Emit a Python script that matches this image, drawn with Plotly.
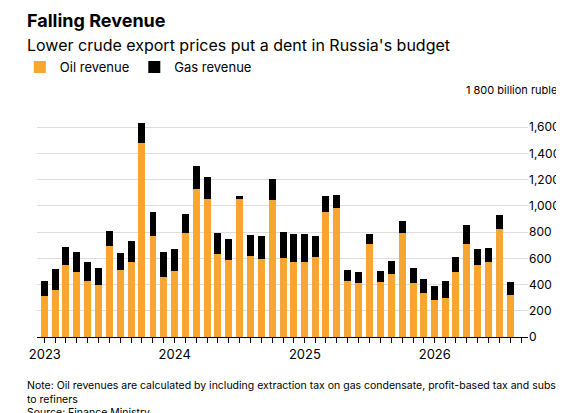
import plotly.graph_objects as go

months = [f"{y}-{m:02d}-01" for y in range(2023, 2027) for m in range(1, 13)][:44]

# billion rubles
oil = [309, 359, 549, 496, 425, 400, 691, 509, 574, 1480, 767, 460,
       501, 792, 1126, 1050, 632, 589, 1052, 615, 595, 1045, 602, 569,
       572, 607, 954, 982, 428, 415, 708, 417, 483, 792, 412, 334,
       281, 296, 496, 706, 549, 574, 825, 324]
total = [425, 521, 686, 645, 569, 526, 810, 640, 736, 1629, 956, 648,
         673, 941, 1303, 1224, 792, 744, 1075, 777, 769, 1207, 799, 787,
         784, 769, 1075, 1080, 509, 493, 784, 501, 577, 886, 529, 445,
         392, 430, 612, 853, 675, 681, 931, 422]
gas = [t - o for t, o in zip(total, oil)]

y_ticks = [0, 200, 400, 600, 800, 1000, 1200, 1400, 1600, 1800]
y_labels = ["0", "200", "400", "600", "800", "1,000", "1,200", "1,400", "1,600", ""]

ORANGE = "#f8a532"
FONT = "Inter, Roboto, sans-serif"

fig = go.Figure()
fig.add_trace(go.Bar(x=months, y=oil, name="Oil revenue", marker_color=ORANGE, marker_line_width=0))
fig.add_trace(go.Bar(x=months, y=gas, name="Gas revenue", marker_color="#000000", marker_line_width=0))

fig.update_layout(
    barmode="stack",
    bargap=0.3,
    width=564, height=413,
    margin=dict(l=14, r=44, t=93, b=84),
    paper_bgcolor="white", plot_bgcolor="white",
    font=dict(family=FONT, size=12, color="#000"),
    showlegend=True,
    legend=dict(orientation="h", x=-0.035, y=1.144, xanchor="left", yanchor="middle",
                font=dict(size=13), traceorder="normal"),
    xaxis=dict(
        type="date",
        tickvals=months + ["2026-09-01"],
        ticktext=[m[:4] if m.endswith("-01-01") else "" for m in months] + [""],
        ticks="outside", ticklen=5, tickcolor="#000",
        showline=True, linecolor="#000", linewidth=1,
        showgrid=False, range=["2022-12-10", "2026-09-20"],
        tickfont=dict(size=13),
    ),
    yaxis=dict(
        side="right", range=[0, 1800], tickvals=y_ticks, ticktext=y_labels,
        gridcolor="#dddddd", zeroline=False, tickfont=dict(size=12),
    ),
)

fig.add_annotation(text="<b>Falling Revenue</b>", xref="paper", yref="paper", x=0, y=1.339,
                   xanchor="left", yanchor="middle", xshift=-12, showarrow=False, font=dict(size=18))
fig.add_annotation(text="Lower crude export prices put a dent in Russia's budget", xref="paper", yref="paper",
                   x=0, y=1.237, xanchor="left", yanchor="middle", xshift=-12, showarrow=False, font=dict(size=16))
fig.add_annotation(text="1 800 billion rubles", xref="paper", yref="paper", x=1.075, y=1.047,
                   xanchor="right", yanchor="middle", showarrow=False, font=dict(size=11))
fig.add_annotation(text="Note: Oil revenues are calculated by including extraction tax on gas condensate, profit-based tax and subsidies<br>to refiners<br>Source: Finance Ministry",
                   xref="paper", yref="paper", x=0, y=-0.17, xanchor="left", yanchor="top", xshift=-12,
                   align="left", showarrow=False, font=dict(size=10.5))

fig.write_html("out.html")
